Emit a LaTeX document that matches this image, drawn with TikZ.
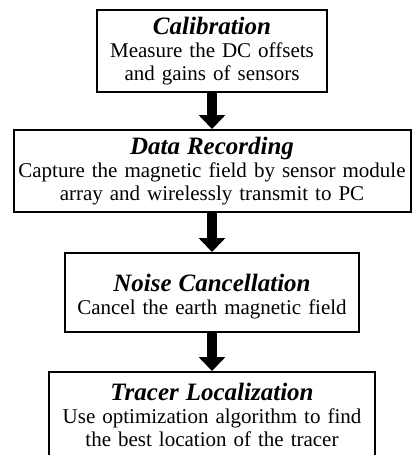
\documentclass[tikz,border=0pt]{standalone}
\usepackage{fontspec}
\setmainfont{Liberation Serif}
\usetikzlibrary{arrows.meta}
\tikzset{
  stage/.style={draw, line width=2pt, align=center, inner sep=0pt, font=\fontsize{21}{23}\selectfont},
  flow/.style={line width=10pt, -{Triangle[width=26pt 0, length=14pt 0]}}
}
\newcommand{\stagetitle}[1]{{\fontsize{25}{26}\selectfont\bfseries\itshape #1}}
\begin{document}
\begin{tikzpicture}[x=1pt,y=-1pt]
\useasboundingbox (0,0) rectangle (412,455);
\def\mid{212}
\node[stage, minimum width=230pt, minimum height=82pt, text width=226pt] (cal) at (\mid,51) {\stagetitle{Calibration}\\ Measure the DC offsets\\ and gains of sensors};
\node[stage, minimum width=397pt, minimum height=82pt, text width=392pt] (rec) at (\mid,171) {\stagetitle{Data Recording}\\ Capture the magnetic field by sensor module\\ array and wirelessly transmit to PC};
\node[stage, minimum width=294pt, minimum height=79pt, text width=290pt] (noise) at (\mid,292.5) {\stagetitle{\rule{0pt}{26pt}Noise Cancellation}\\ Cancel the earth magnetic field};
\node[stage, minimum width=326pt, minimum height=86pt, text width=320pt] (trac) at (\mid,415) {\stagetitle{Tracer Localization}\\ Use optimization algorithm to find\\ the best location of the tracer};

% arrows
\draw[flow] (cal.south) -- (rec.north); % calibration to recording
\draw[flow] (rec.south) -- (noise.north); % recording to noise
\draw[flow] (noise.south) -- (trac.north); % noise to tracer
\end{tikzpicture}
\end{document}
